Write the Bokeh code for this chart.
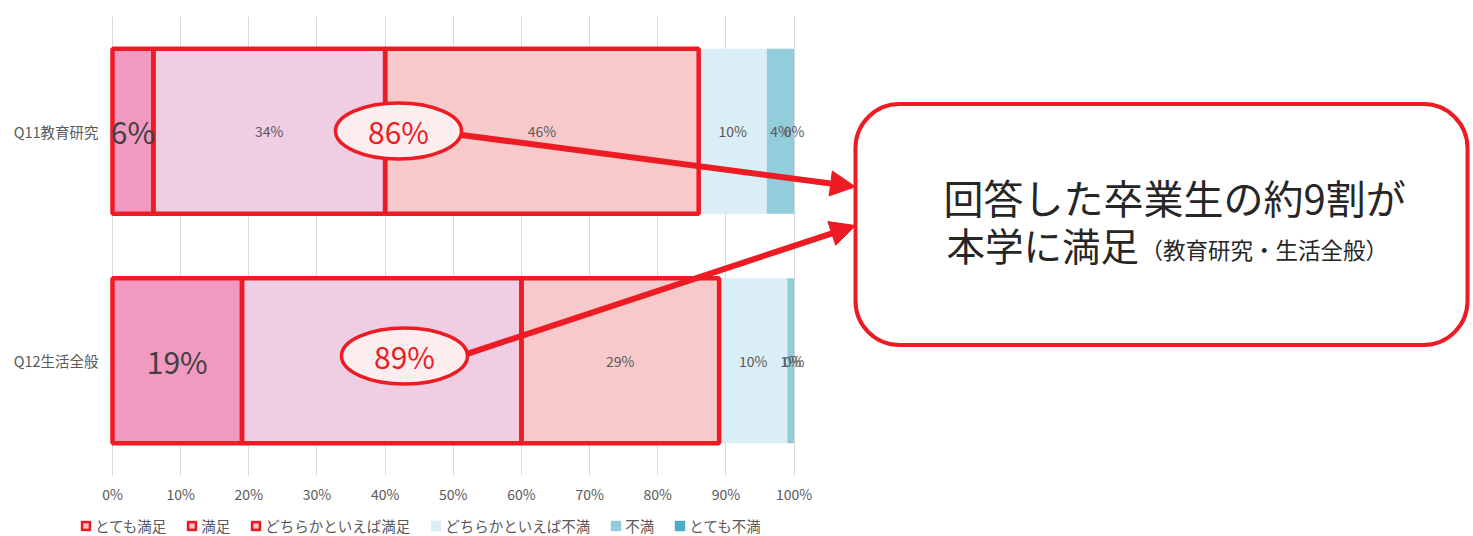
from bokeh.plotting import figure
from bokeh.layouts import column
from bokeh.models import (Range1d, FactorRange, FixedTicker, ColumnDataSource, Arrow,
                          NormalHead, Legend, LegendItem)
from bokeh.core.properties import value
from bokeh.embed import file_html
from bokeh.resources import INLINE

# ---------------- data ----------------
categories = ["Q11教育研究", "Q12生活全般"]
series_names = ["とても満足", "満足", "どちらかといえば満足", "どちらかといえば不満", "不満", "とても不満"]
q11_values = [6, 34, 46, 10, 4, 0]
q12_values = [19, 41, 29, 10, 1, 0]
x_ticks = [0, 10, 20, 30, 40, 50, 60, 70, 80, 90, 100]
tick_labels = ["0%", "10%", "20%", "30%", "40%", "50%", "60%", "70%", "80%", "90%", "100%"]
callout_line1 = "回答した卒業生の約9割が"
callout_line2 = "本学に満足"
callout_note = "（教育研究・生活全般）"

# ---------------- style ----------------
colors = ["#F299C1", "#EFCDE2", "#F8C9CB", "#DAEEF5", "#92CDDC", "#4BACC6"]
RED = "#ED1C24"
FONT = "Noto Sans CJK JP"
GREY = "#595959"
N_SAT = 3  # first three series = satisfied

W, H = 1470, 506
H_LEG = 30
LEFT, TOP, BOTTOM = 112, 16, 477   # pixel position of 0 %, plot top, plot bottom
PX = 6.816                         # px per percent
YPX = (BOTTOM - TOP) / 2.0         # px per category

def dx(px):
    return (px - LEFT) / PX

def dy(py):
    return 2 - (py - TOP) / YPX

p = figure(width=W, height=H, output_backend="svg", toolbar_location=None,
           x_range=Range1d(-LEFT / PX, (W - LEFT) / PX),
           y_range=FactorRange(factors=categories[::-1]),
           y_axis_location=None,
           min_border_left=0, min_border_right=0, min_border_top=TOP,
           min_border_bottom=H - BOTTOM)
p.outline_line_color = None
p.background_fill_color = "white"
p.border_fill_color = "white"

ticker = FixedTicker(ticks=x_ticks)
p.xaxis.ticker = ticker
p.xaxis.major_label_overrides = {t: l for t, l in zip(x_ticks, tick_labels)}
p.xaxis.axis_line_color = None
p.xaxis.major_tick_line_color = None
p.xaxis.minor_tick_line_color = None
p.xaxis.major_tick_out = 0
p.xaxis.major_tick_in = 0
p.xaxis.minor_tick_out = 0
p.xaxis.major_label_text_font = FONT
p.xaxis.major_label_text_color = GREY
p.xaxis.major_label_text_font_size = "14px"
p.xaxis.major_label_standoff = 8
p.xgrid.ticker = ticker
p.xgrid.grid_line_color = "#D9D9D9"
p.ygrid.grid_line_color = None

# category labels (left of the 0 % line)
p.text(x=[dx(98)] * len(categories), y=categories, text=categories,
       text_align="right", text_baseline="middle", text_font=value(FONT),
       text_font_size="14.5px", text_color=GREY)

# ---------------- bars ----------------
rows = [q11_values, q12_values]
keys = [f"s{i}" for i in range(len(series_names))]
data = {"cat": categories}
for i, k in enumerate(keys):
    data[k] = [r[i] for r in rows]
src = ColumnDataSource(data)
BAR_H = 0.72
p.hbar_stack(keys, y="cat", height=BAR_H, color=colors, line_color=None, source=src)

# segment geometry for labels / outlines
seg_cat, seg_left, seg_right, seg_mid, seg_txt, seg_idx = [], [], [], [], [], []
for c, r in zip(categories, rows):
    acc = 0
    for i, v in enumerate(r):
        seg_cat.append(c); seg_left.append(acc); seg_right.append(acc + v)
        seg_mid.append(acc + v / 2); seg_txt.append(f"{v}%"); seg_idx.append(i)
        acc += v

# red outlines around satisfied segments
sat = [j for j in range(len(seg_idx)) if seg_idx[j] < N_SAT]
p.hbar(y=[seg_cat[j] for j in sat], left=[seg_left[j] for j in sat],
       right=[seg_right[j] for j in sat], height=BAR_H,
       fill_color=None, line_color=RED, line_width=4.5)

# data labels
big = [j for j in range(len(seg_idx)) if seg_idx[j] == 0]
small = [j for j in range(len(seg_idx)) if seg_idx[j] != 0]
p.text(x=[seg_mid[j] for j in small], y=[seg_cat[j] for j in small],
       text=[seg_txt[j] for j in small], text_align="center", text_baseline="middle",
       text_font=value(FONT), text_font_size="14px", text_color=GREY)
p.text(x=[seg_mid[j] for j in big], y=[seg_cat[j] for j in big],
       text=[seg_txt[j] for j in big], text_align="center", text_baseline="middle",
       text_font=value(FONT), text_font_size="30px", text_color="#404040")

# ---------------- callout box ----------------
p.quad(left=dx(855), right=dx(1467), top=dy(104), bottom=dy(346), border_radius=44,
       fill_color="white", line_color=RED, line_width=4)
p.text(x=[dx(943)], y=[dy(197)], text=[callout_line1], text_align="left",
       text_baseline="middle", text_font=value(FONT), text_font_size="40px",
       text_color="#262626")
p.text(x=[dx(946)], y=[dy(244)], text=[callout_line2], text_align="left",
       text_baseline="middle", text_font=value(FONT), text_font_size="38.5px",
       text_color="#262626")
p.text(x=[dx(1140)], y=[dy(250)], text=[callout_note], text_align="left",
       text_baseline="middle", text_font=value(FONT), text_font_size="22.5px",
       text_color="#262626")

# ---------------- arrows ----------------
for (xs, ys, xe, ye) in [(461, 135, 855, 187), (466, 355, 855, 226)]:
    p.add_layout(Arrow(end=NormalHead(size=25, fill_color=RED, line_color=RED, line_width=1),
                       x_start=dx(xs), y_start=dy(ys), x_end=dx(xe), y_end=dy(ye),
                       line_color=RED, line_width=6))

# ---------------- ellipses with totals ----------------
totals = [sum(r[:N_SAT]) for r in rows]
ell_x = [dx(398), dx(404)]
ell_y = [dy(131), dy(357)]
p.ellipse(x=ell_x, y=ell_y, width=126, height=56, width_units="screen", height_units="screen",
          fill_color="#FCEEEE", line_color=RED, line_width=3.5)
p.text(x=ell_x, y=ell_y, text=[f"{t}%" for t in totals], text_align="center",
       text_baseline="middle", text_font=value(FONT), text_font_size="30px", text_color=RED)

# ---------------- legend (separate strip below) ----------------
lg = figure(width=W, height=H_LEG, output_backend="svg", toolbar_location=None,
            x_range=Range1d(0, 1), y_range=Range1d(0, 1),
            x_axis_location=None, y_axis_location=None, min_border=0)
lg.outline_line_color = None
lg.grid.grid_line_color = None
lg.background_fill_color = "white"
lg.border_fill_color = "white"
# proxy glyphs placed far outside the visible range: only their legend swatches show
r_red = lg.hbar(y=[50], left=[50], right=[51], height=0.5, fill_color=RED, line_color=None)
r_dot = lg.scatter(x=[50], y=[50], marker="square", size=4, fill_color="#F7C5CB", line_color=None)
items = []
for i, name in enumerate(series_names):
    if i < N_SAT:
        items.append(LegendItem(label=name, renderers=[r_red, r_dot]))
    else:
        r = lg.hbar(y=[50], left=[50], right=[51], height=0.5, fill_color=colors[i], line_color=None)
        items.append(LegendItem(label=name, renderers=[r]))
legend = Legend(items=items, orientation="horizontal", location=(79, 0),
                glyph_width=13, glyph_height=13, label_standoff=3, spacing=19,
                padding=0, margin=0, border_line_color=None, background_fill_alpha=0,
                label_text_font=FONT, label_text_font_size="14.5px", label_text_color=GREY,
                label_height=14)
lg.add_layout(legend)

open("out.html", "w").write(file_html(column(p, lg, spacing=0), INLINE))
